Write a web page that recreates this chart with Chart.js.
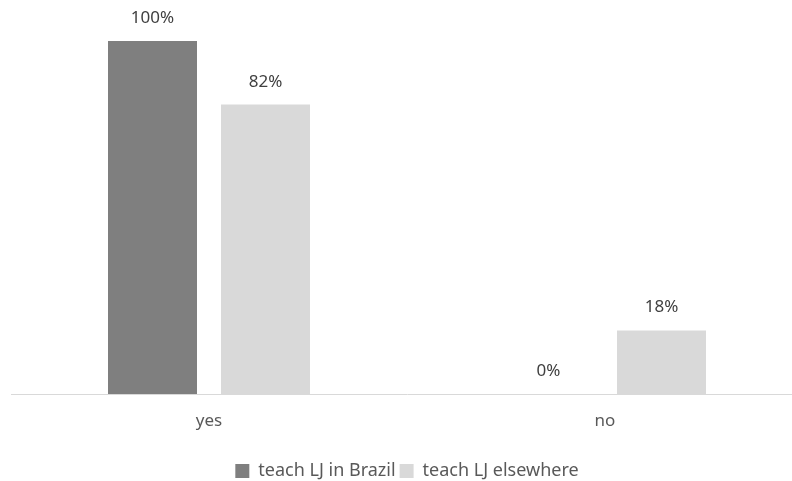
<!DOCTYPE html>
<html>
<head>
<meta charset="utf-8">
<script src="https://cdn.jsdelivr.net/npm/chart.js@4.4.0/dist/chart.umd.min.js"></script>
<style>
  html, body { margin: 0; padding: 0; background: #fff; overflow: hidden; }
  #wrap { width: 815px; height: 481px; position: relative; }
</style>
</head>
<body>
<div id="wrap"><canvas id="chart"></canvas></div>
<script>
// Chart data
const categories = ['yes', 'no'];
const brazilValues = [100, 0];
const elsewhereValues = [82, 18];
const seriesNames = ['teach LJ in Brazil', 'teach LJ elsewhere'];

const FONT = '"Noto Sans", "Open Sans", sans-serif';

// Draw the percentage above each bar
const barLabels = {
    id: 'barLabels',
    afterDatasetsDraw(chart) {
        const ctx = chart.ctx;
        ctx.save();
        ctx.font = '17px ' + FONT;
        ctx.fillStyle = '#404040';
        ctx.textAlign = 'center';
        ctx.textBaseline = 'alphabetic';
        chart.data.datasets.forEach((ds, i) => {
            chart.getDatasetMeta(i).data.forEach((bar, j) => {
                ctx.fillText(ds.data[j] + '%', bar.x, bar.y - 18);
            });
        });
        ctx.restore();
    }
};

const ctx = document.getElementById('chart').getContext('2d');
new Chart(ctx, {
    type: 'bar',
    data: {
        labels: categories,
        datasets: [
            {
                label: seriesNames[0],
                data: brazilValues,
                backgroundColor: '#7f7f7f',
                categoryPercentage: 0.5707,
                barPercentage: 0.7876
            },
            {
                label: seriesNames[1],
                data: elsewhereValues,
                backgroundColor: '#d9d9d9',
                categoryPercentage: 0.5707,
                barPercentage: 0.7876
            }
        ]
    },
    options: {
        responsive: true,
        maintainAspectRatio: false,
        animation: false,
        layout: { padding: { left: 11, right: 12, top: 41, bottom: -9 } },
        scales: {
            x: {
                grid: { display: false, drawTicks: false },
                border: { color: '#d9d9d9', width: 1 },
                ticks: { color: '#595959', font: { family: FONT, size: 17 }, padding: 17 },
                afterFit(scale) { scale.height = 64; }
            },
            y: {
                display: false,
                min: 0,
                max: 100
            }
        },
        plugins: {
            legend: {
                position: 'bottom',
                labels: {
                    color: '#595959',
                    font: { family: FONT, size: 18 },
                    boxWidth: 14,
                    boxHeight: 14,
                    padding: 4
                }
            },
            tooltip: { enabled: false }
        }
    },
    plugins: [barLabels]
});
</script>
</body>
</html>
